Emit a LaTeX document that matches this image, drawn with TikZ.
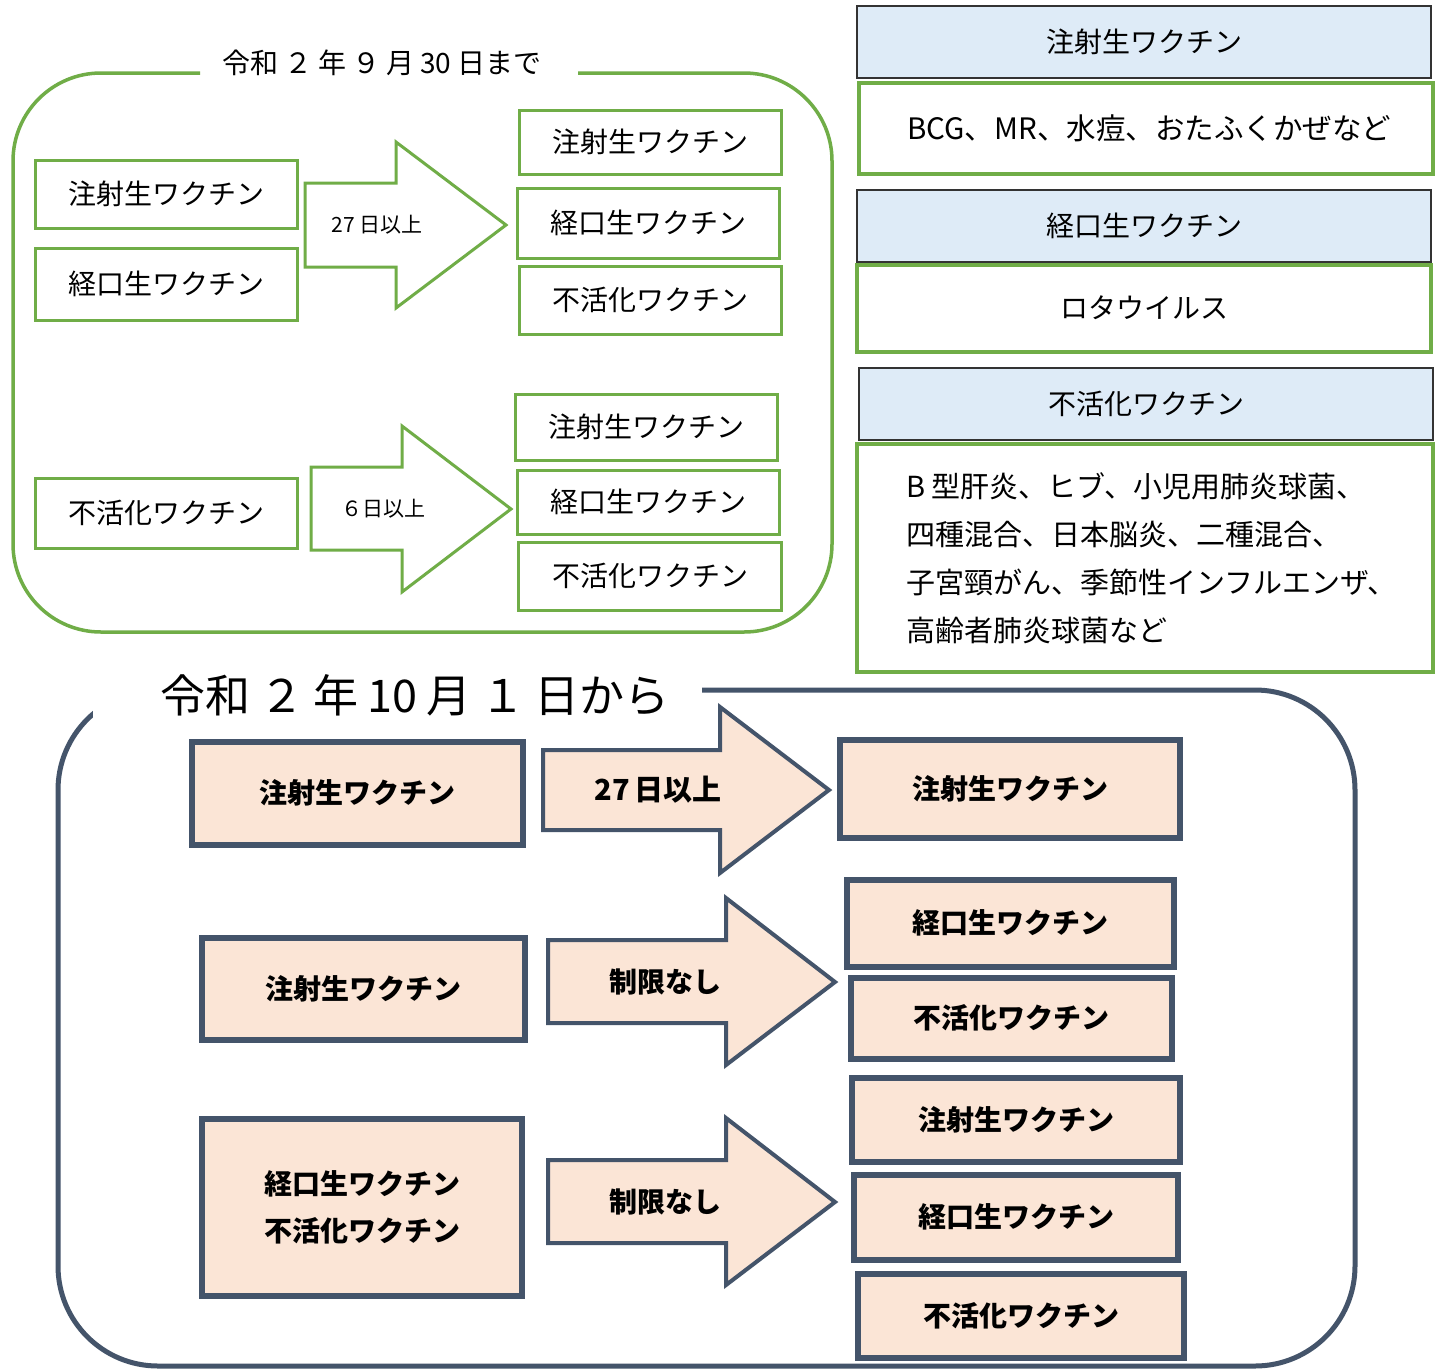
\documentclass[tikz,border=0pt]{standalone}
\usepackage{fontspec}
\setmainfont{Noto Sans CJK JP}
\definecolor{grn}{HTML}{70AD47}
\definecolor{navy}{HTML}{44546A}
\definecolor{peach}{HTML}{FBE5D6}
\definecolor{lblue}{HTML}{DEEBF7}
\newcommand\gp{\hspace{6pt}}
\newcommand\gq{\hspace{9pt}}
\begin{document}
\begin{tikzpicture}[x=1pt,y=-1pt,
  txt28/.style={font=\fontsize{28}{34}\selectfont},
  gbox/.style={draw=grn,line width=3pt,fill=white,txt28,inner sep=0pt},
  hbox/.style={draw=black!80,line width=1.5pt,fill=lblue,txt28,inner sep=0pt,minimum width=574pt,minimum height=72pt},
  rbox/.style={draw=grn,line width=4pt,fill=white,txt28,inner sep=0pt},
  nbox/.style={draw=navy,line width=6pt,fill=peach,inner sep=0pt,font=\fontsize{28}{34}\selectfont\bfseries},
  garrow/.style={draw=grn,line width=3pt,fill=white,line join=miter},
  narrow/.style={draw=navy,line width=4pt,fill=peach,line join=miter},
  smalltxt/.style={font=\fontsize{21}{25}\selectfont,inner sep=0pt},
  arrtxt/.style={font=\fontsize{29}{34}\selectfont\bfseries,inner sep=0pt}
]
\useasboundingbox (0,0) rectangle (1442,1368);
\fill[white] (0,0) rectangle (1442,1368);

% ---------- top-left green frame ----------
\draw[grn,line width=3.5pt,rounded corners=88pt] (200,73) -- (13,73) -- (13,632) -- (832,632) -- (832,73) -- (578,73);
\node (t1) [font=\fontsize{28}{34}\selectfont,inner sep=0pt,anchor=west] at (222,63) {令和\gp{}２\gp{}年\gp{}９\gp{}月\gp{}30\gp{}日まで};

\node (a1) [gbox,minimum width=262pt,minimum height=68pt] at (166,194) {注射生ワクチン};
\node (a2) [gbox,minimum width=262pt,minimum height=72pt] at (166,284) {経口生ワクチン};
\draw[garrow] (305,183) -- (396,183) -- (396,142) -- (506,225) -- (396,308) -- (396,267) -- (305,267) -- cycle;
\node (l1) [smalltxt] at (377,225) {27 日以上};
\node (b1) [gbox,minimum width=262pt,minimum height=64pt] at (650,142) {注射生ワクチン};
\node (b2) [gbox,minimum width=262pt,minimum height=70pt] at (648,223) {経口生ワクチン};
\node (b3) [gbox,minimum width=262pt,minimum height=68pt] at (650,300) {不活化ワクチン};

\node (a3) [gbox,minimum width=262pt,minimum height=70pt] at (166,513) {不活化ワクチン};
\draw[garrow] (311,467) -- (402,467) -- (402,426) -- (511,509) -- (402,592) -- (402,550) -- (311,550) -- cycle;
\node (l2) [smalltxt] at (383,509) {６日以上};
\node (c1) [gbox,minimum width=262pt,minimum height=66pt] at (646,427) {注射生ワクチン};
\node (c2) [gbox,minimum width=262pt,minimum height=64pt] at (648,502) {経口生ワクチン};
\node (c3) [gbox,minimum width=263pt,minimum height=68pt] at (650,576) {不活化ワクチン};

% ---------- right panel ----------
\node (h1) [hbox] at (1144,42) {注射生ワクチン};
\node (r1) [rbox,minimum width=574pt,minimum height=91pt] at (1146,128) {};
\node (r1t) [font=\fontsize{29.5}{34}\selectfont,inner sep=0pt,anchor=west] at (907,128) {BCG、MR、水痘、おたふくかぜなど};
\node (h2) [hbox] at (1144,226) {経口生ワクチン};
\node (r2) [rbox,minimum width=574pt,minimum height=87pt] at (1144,308) {ロタウイルス};
\node (h3) [hbox] at (1146,404) {不活化ワクチン};
\node (r3) [rbox,minimum width=576pt,minimum height=228pt] at (1145,558) {};
\node (r3t) [anchor=north west,inner sep=0pt,align=left,font=\fontsize{29}{48}\selectfont] at (906,472)
  {B\gp{}型肝炎、ヒブ、小児用肺炎球菌、\\四種混合、日本脳炎、二種混合、\\子宮頸がん、季節性インフルエンザ、\\高齢者肺炎球菌など};

% ---------- bottom navy frame ----------
\draw[navy,line width=5pt,rounded corners=100pt] (703,690) -- (1355,690) -- (1355,1366) -- (58,1366) -- (58,690) -- (703,690);
\fill[white] (93,652) rectangle (702,718);
\node (t2) [font=\fontsize{45}{50}\selectfont,inner sep=0pt,anchor=west] at (160,695) {令和\gq{}２\gq{}年\gq{}10\gq{}月\gq{}１\gq{}日から};

\node (d1) [nbox,minimum width=331pt,minimum height=103pt] at (357,793) {注射生ワクチン};
\draw[narrow] (543,750) -- (720,750) -- (720,707) -- (829,790) -- (720,873) -- (720,830) -- (543,830) -- cycle;
\node (m1) [arrtxt] at (658,790) {27\,日以上};
\node (e1) [nbox,minimum width=340pt,minimum height=98pt] at (1010,789) {注射生ワクチン};

\node (d2) [nbox,minimum width=323pt,minimum height=102pt] at (363,989) {注射生ワクチン};
\draw[narrow] (548,940) -- (726,940) -- (726,898) -- (835,982) -- (726,1065) -- (726,1023) -- (548,1023) -- cycle;
\node (m2) [arrtxt,font=\fontsize{28}{34}\selectfont\bfseries] at (665,982) {制限なし};
\node (e2) [nbox,minimum width=327pt,minimum height=87pt] at (1010,923) {経口生ワクチン};
\node (e3) [nbox,minimum width=321pt,minimum height=81pt] at (1011,1018) {不活化ワクチン};

\node (d3) [nbox,minimum width=320pt,minimum height=177pt,align=center,font=\fontsize{28}{47}\selectfont\bfseries] at (362,1207) {経口生ワクチン\\不活化ワクチン};
\draw[narrow] (548,1160) -- (726,1160) -- (726,1118) -- (835,1202) -- (726,1285) -- (726,1243) -- (548,1243) -- cycle;
\node (m3) [arrtxt,font=\fontsize{28}{34}\selectfont\bfseries] at (665,1202) {制限なし};
\node (f1) [nbox,minimum width=328pt,minimum height=84pt] at (1016,1120) {注射生ワクチン};
\node (f2) [nbox,minimum width=324pt,minimum height=85pt] at (1016,1217) {経口生ワクチン};
\node (f3) [nbox,minimum width=326pt,minimum height=84pt] at (1021,1316) {不活化ワクチン};
\end{tikzpicture}
\end{document}
